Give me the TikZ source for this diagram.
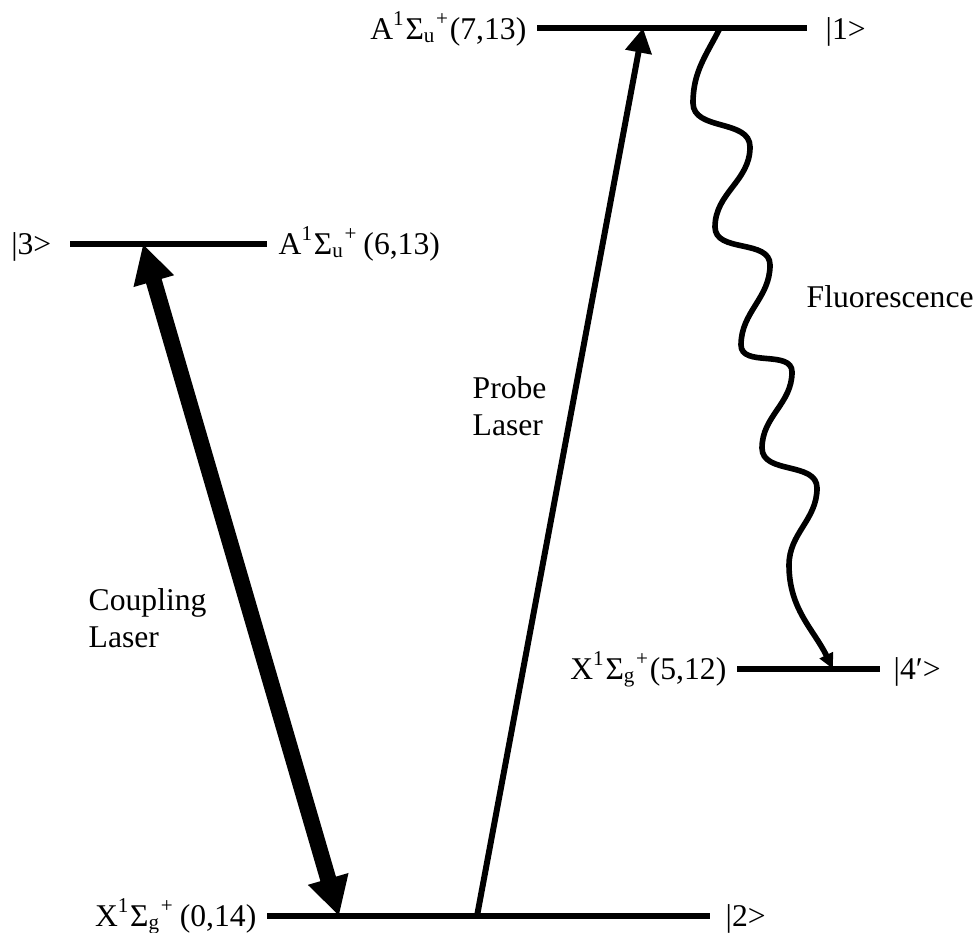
\documentclass[tikz,border=0pt]{standalone}
\usepackage{fontspec}
\setmainfont{Liberation Serif}
\usetikzlibrary{arrows.meta, positioning}

\begin{document}
\begin{tikzpicture}[font=\fontsize{9}{10.5}\selectfont,
  level/.style={line width=1.6pt},
  lbl/.style={inner sep=0pt},
  wv/.style={out=-90, in=90, looseness=1}]
\useasboundingbox (0,0) rectangle (9.74,-9.32);

% energy levels
\coordinate (l1a) at (5.37,-0.28); \coordinate (l1b) at (8.07,-0.28);
\coordinate (l3a) at (0.70,-2.44); \coordinate (l3b) at (2.67,-2.44);
\coordinate (l4a) at (7.37,-6.69); \coordinate (l4b) at (8.80,-6.69);
\coordinate (l2a) at (2.67,-9.16); \coordinate (l2b) at (7.10,-9.16);
\draw[level] (l1a) -- (l1b);
\draw[level] (l3a) -- (l3b);
\draw[level] (l4a) -- (l4b);
\draw[level] (l2a) -- (l2b);

\node[lbl, anchor=base east] (name1) at ([xshift=-1mm, yshift=-1.1mm]l1a) {A\textsuperscript{1}Σ\textsubscript{u}\textsuperscript{+}(7,13)};
\node[lbl, anchor=base west] (ket1) at ([xshift=1.8mm, yshift=-1.1mm]l1b) {|1>};
\node[lbl, anchor=base east] (ket3) at ([xshift=-1.8mm, yshift=-1.0mm]l3a) {|3>};
\node[lbl, anchor=base west] (name3) at ([xshift=1.1mm, yshift=-1.0mm]l3b) {A\textsuperscript{1}Σ\textsubscript{u}\textsuperscript{+}\,(6,13)};
\node[lbl, anchor=base east] (name4) at ([xshift=-1mm, yshift=-1.0mm]l4a) {X\textsuperscript{1}Σ\textsubscript{g}\textsuperscript{+}(5,12)};
\node[lbl, anchor=base west] (ket4) at ([xshift=1.3mm, yshift=-1.0mm]l4b) {|4′>};
\node[lbl, anchor=base east] (name2) at ([xshift=-1mm, yshift=-1.0mm]l2a) {X\textsuperscript{1}Σ\textsubscript{g}\textsuperscript{+}\,(0,14)};
\node[lbl, anchor=base west] (ket2) at ([xshift=1.5mm, yshift=-1.0mm]l2b) {|2>};

% transitions
\coordinate (c3) at (1.43,-2.44); \coordinate (c2) at (3.39,-9.16);
\coordinate (p2) at (4.77,-9.16); \coordinate (p1) at (6.43,-0.28);
\coordinate (f1) at (7.20,-0.28); \coordinate (f4) at (8.33,-6.69);

\draw[{Triangle[length=11pt,width=11.2pt]}-{Triangle[length=11pt,width=11.2pt]}, line width=4.6pt] (c3) -- (c2);
\draw[-{Triangle[length=7pt,width=7.3pt]}, line width=1.7pt] (p2) -- (p1);
\draw[-{Triangle[length=4.4pt,width=4pt]}, line width=1.6pt] (f1)
  to[out=243, in=90] ++(-0.27,-0.75) to[wv] ++(0.57,-0.44)
  to[wv] ++(-0.35,-0.80) to[wv] ++(0.55,-0.38)
  to[wv] ++(-0.29,-0.80) to[wv] ++(0.51,-0.27)
  to[wv] ++(-0.30,-0.76) to[wv] ++(0.55,-0.40)
  to[wv] ++(-0.28,-0.77) to[out=-90, in=116] (f4);

\node[lbl, anchor=west, align=left] (probe) at (4.72,-4.06) {Probe\\Laser};
\node[lbl, anchor=west, align=left] (coupling) at (0.88,-6.18) {Coupling\\Laser};
\node[lbl, anchor=base west] (fluor) at (8.06,-3.07) {Fluorescence};
\end{tikzpicture}
\end{document}
